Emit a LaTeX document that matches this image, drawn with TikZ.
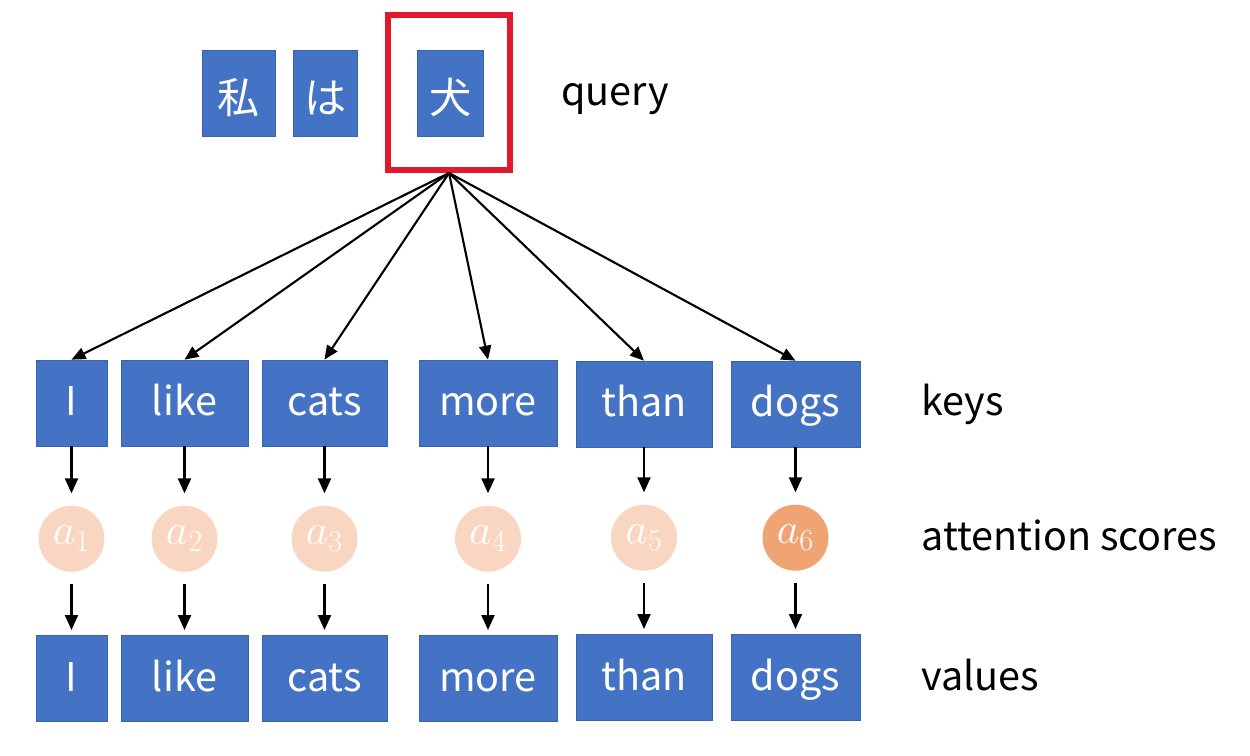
\documentclass[tikz,border=0pt]{standalone}
\usepackage{fontspec}
\setmainfont{Noto Sans CJK JP}
\usepackage{tikz}
\usetikzlibrary{arrows.meta, positioning}
\definecolor{wordblue}{HTML}{4472C4}
\definecolor{wordedge}{HTML}{3A63AD}
\definecolor{pickred}{HTML}{E3182D}
\definecolor{scorelow}{HTML}{F9D6C1}
\definecolor{scorehigh}{HTML}{F0A474}

\begin{document}
\begin{tikzpicture}[x=0.02cm, y=-0.02cm,
  word/.style={rectangle, draw=wordedge, line width=0.4pt, fill=wordblue, text=white,
               minimum height=1.72cm, inner sep=0pt, text height=0.6cm, text depth=0.08cm,
               font=\fontsize{22.5}{27}\selectfont},
  jword/.style={word, text height=0.9cm, text depth=0.1cm, font=\fontsize{24}{28}\selectfont},
  pick/.style={rectangle, draw=pickred, line width=3.4pt,
               minimum width=2.44cm, minimum height=3.1cm},
  score/.style={circle, fill=scorelow, text=white, minimum size=1.32cm, inner sep=0pt,
                font=\fontsize{27}{30}\selectfont},
  rowlabel/.style={anchor=base west, inner sep=0pt, font=\fontsize{22.5}{26}\selectfont},
  arrow/.style={-{Triangle[length=0.3cm, width=0.26cm]}, line width=1.2pt},
  fan/.style={-{Triangle[length=0.28cm, width=0.24cm]}, line width=1.2pt},
]
  \useasboundingbox (0,0) rectangle (1250,756);

  % query side
  \node[jword, minimum width=1.46cm] (q_watashi) at (238.5,93.5) {私};
  \node[jword, minimum width=1.28cm] (q_wa) at (325.5,93.5) {は};
  \node[jword, minimum width=1.32cm] (q_inu) at (450.5,93.5) {犬};
  \node[pick] (pick) at (449,92.5) {};
  \node[rowlabel] (lbl_query) at (561,106) {query};

  % keys
  \node[word, minimum width=1.42cm] (k_i) at (71.5,403) {I};
  \node[word, minimum width=2.54cm] (k_like) at (184.5,403) {like};
  \node[word, minimum width=2.5cm] (k_cats) at (324.5,403) {cats};
  \node[word, minimum width=2.76cm] (k_more) at (488,403) {more};
  \node[word, minimum width=2.72cm] (k_than) at (644,404) {than};
  \node[word, minimum width=2.58cm] (k_dogs) at (795.5,404) {dogs};
  \node[rowlabel] (lbl_keys) at (921,416) {keys};

  % attention scores
  \node[score, below=1.18cm of k_i] (s_1) {$a_1$};
  \node[score, below=1.18cm of k_like] (s_2) {$a_2$};
  \node[score, below=1.18cm of k_cats] (s_3) {$a_3$};
  \node[score, below=1.18cm of k_more] (s_4) {$a_4$};
  \node[score, below=1.14cm of k_than] (s_5) {$a_5$};
  \node[score, below=1.14cm of k_dogs, fill=scorehigh] (s_6) {$a_6$};
  \node[rowlabel] (lbl_scores) at (921,550) {attention scores};

  % values
  \node[word, minimum width=1.42cm, below=1.26cm of s_1] (v_i) {I};
  \node[word, minimum width=2.54cm, below=1.26cm of s_2] (v_like) {like};
  \node[word, minimum width=2.5cm, below=1.26cm of s_3] (v_cats) {cats};
  \node[word, minimum width=2.76cm, below=1.26cm of s_4] (v_more) {more};
  \node[word, minimum width=2.72cm, below=1.26cm of s_5] (v_than) {than};
  \node[word, minimum width=2.58cm, below=1.26cm of s_6] (v_dogs) {dogs};
  \node[rowlabel] (lbl_values) at (921,690) {values};

  \draw[fan] (pick.south) -- (k_i.north);
  \draw[fan] (pick.south) -- (k_like.north);
  \draw[fan] (pick.south) -- (k_cats.north);
  \draw[fan] (pick.south) -- (k_more.north);
  \draw[fan] (pick.south) -- (k_than.north);
  \draw[fan] (pick.south) -- (k_dogs.north);

  \draw[arrow, shorten >=0.24cm] (k_i) -- (s_1);
  \draw[arrow, shorten >=0.24cm] (k_like) -- (s_2);
  \draw[arrow, shorten >=0.24cm] (k_cats) -- (s_3);
  \draw[arrow, shorten >=0.24cm] (k_more) -- (s_4);
  \draw[arrow, shorten >=0.24cm] (k_than) -- (s_5);
  \draw[arrow, shorten >=0.24cm] (k_dogs) -- (s_6);

  \draw[arrow, shorten <=0.24cm, shorten >=0.1cm] (s_1) -- (v_i);
  \draw[arrow, shorten <=0.24cm, shorten >=0.1cm] (s_2) -- (v_like);
  \draw[arrow, shorten <=0.24cm, shorten >=0.1cm] (s_3) -- (v_cats);
  \draw[arrow, shorten <=0.24cm, shorten >=0.1cm] (s_4) -- (v_more);
  \draw[arrow, shorten <=0.24cm, shorten >=0.1cm] (s_5) -- (v_than);
  \draw[arrow, shorten <=0.24cm, shorten >=0.1cm] (s_6) -- (v_dogs);
\end{tikzpicture}
\end{document}
